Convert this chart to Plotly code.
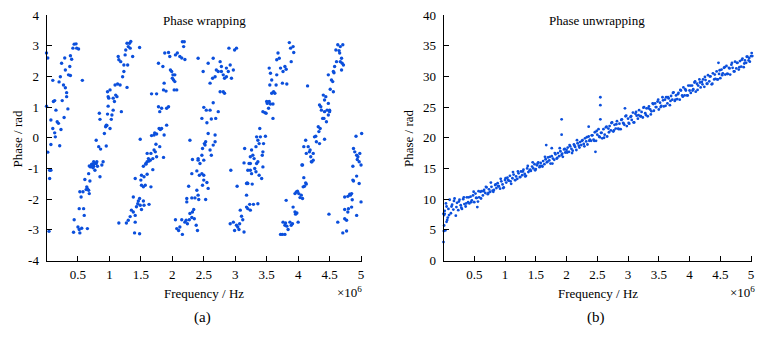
import plotly.graph_objects as go

# ---------------- (a) wrapped phase: frequency (x10^6 Hz) and phase (rad)
wrap_freq = [
    0.0, 0.02, 0.0, 0.02, 0.07, 0.1, 0.07, 0.11, 0.13, 0.1, 0.13, 0.14, 0.15, 0.17, 0.19, 0.21, 0.2, 0.22, 0.23, 0.24,
    0.25, 0.27, 0.29, 0.3, 0.28, 0.3, 0.32, 0.34, 0.35, 0.37, 0.38, 0.38, 0.4, 0.42, 0.44, 0.47, 0.48, 0.51, 0.57, 0.32,
    0.05, 0.07, 0.05, 0.04,
    0.43, 0.44, 0.5, 0.52, 0.53, 0.56, 0.65, 0.52, 0.59, 0.6, 0.55, 0.53, 0.58, 0.61, 0.64, 0.65, 0.67, 0.68, 0.69, 0.63,
    0.67, 0.7, 0.72, 0.75, 0.77, 0.79, 0.81, 0.85, 0.88, 0.75, 0.9,
    0.68, 0.72, 0.76, 0.8, 0.74, 0.79, 0.83, 0.86, 0.84, 0.85, 0.92, 0.94, 0.95, 0.97, 0.95, 0.96, 0.98, 0.98, 1.01, 1.03,
    1.04, 1.06, 1.09, 1.1, 1.12, 1.13, 1.14, 1.15, 1.17, 1.18, 1.19, 1.21, 1.23, 1.23, 1.25, 1.26, 1.28, 1.29, 1.3, 1.32,
    1.33, 1.34, 1.37, 1.28, 1.08, 1.06, 0.99, 0.97, 1.01,
    1.15, 1.27, 1.3, 1.33, 1.41, 1.4, 1.48, 1.35, 1.38, 1.41, 1.43, 1.45, 1.46, 1.48, 1.49, 1.51, 1.54, 1.55, 1.63, 1.38,
    1.41, 1.5, 1.51, 1.55, 1.6, 1.51, 1.54, 1.57, 1.66, 1.58, 1.6, 1.63, 1.65, 1.69,
    1.58, 1.54, 1.62, 1.6, 1.66, 1.69, 1.71, 1.73, 1.75, 1.74, 1.8, 1.86, 1.67, 1.71, 1.72, 1.75, 1.79, 1.81, 1.83, 1.87,
    1.91, 1.78, 1.8, 1.83, 1.91, 1.94, 1.86, 1.9, 1.87, 1.75, 1.67, 1.78, 1.85, 1.88, 1.94, 1.96, 1.97, 1.99, 2.0, 2.01,
    2.02, 2.04, 2.04, 2.03, 2.07, 2.05, 2.08, 2.12, 2.15, 2.16, 2.19, 2.18, 2.2, 1.49, 1.48,
    2.05, 2.07, 2.1, 2.12, 2.15, 2.16, 2.2, 2.22, 2.24, 2.27, 2.31, 2.28, 2.32, 2.34, 2.35, 2.38, 2.4, 2.23, 2.23, 2.26,
    2.31, 2.36, 2.41, 2.39, 2.42, 2.31, 2.39, 2.43, 2.47, 2.5, 2.5, 2.55, 2.53, 2.57, 2.48, 2.41, 2.5,
    2.28, 2.32, 2.41, 2.44, 2.47, 2.48, 2.51, 2.52, 2.53, 2.57, 2.6, 2.62, 2.65, 2.68, 2.47, 2.5, 2.54, 2.55, 2.6, 2.62,
    2.65, 2.69, 2.73, 2.68, 2.76, 2.81, 2.83, 2.49, 2.6, 2.64, 2.68, 2.7, 2.73, 2.76, 2.78, 2.81, 2.83, 2.86, 2.89, 2.92,
    2.94, 2.97, 2.99, 3.02, 2.9, 2.41, 2.57, 2.65, 2.78, 2.86,
    2.92, 2.93, 2.97, 2.99, 3.02, 3.04, 3.06, 3.07, 3.1, 3.12, 3.14, 3.08, 3.18, 3.2, 3.23, 3.24, 3.29, 3.36, 3.03, 3.18,
    3.19, 3.2, 3.27, 3.18, 3.14, 3.2, 3.24, 3.26, 3.24, 3.31, 3.33, 3.34, 3.36, 3.38, 3.42, 3.44,
    3.15, 3.22, 3.24, 3.26, 3.28, 3.3, 3.33, 3.34, 3.36, 3.38, 3.39, 3.4, 3.43, 3.44, 3.45, 3.48, 3.44, 3.47, 3.49, 3.5,
    3.51, 3.53, 3.54, 3.56, 3.58, 3.6, 3.6, 3.61, 3.63, 3.65, 3.66, 3.54, 3.58, 3.66, 3.68, 3.7, 3.72, 3.75, 3.76, 3.79,
    3.81, 3.82, 3.86, 3.88, 3.89, 3.92, 3.93, 3.56, 3.55,
    3.72, 3.75, 3.79, 3.76, 3.79, 3.8, 3.82, 3.84, 3.87, 3.89, 3.91, 3.81, 3.92, 3.95, 3.96, 3.98, 4.0, 3.95, 3.97, 3.99,
    4.01, 4.03, 4.05, 4.07, 4.08, 4.1, 4.12, 4.09, 4.13, 4.06, 4.21, 4.24,
    4.07, 4.09, 4.12, 4.13, 4.16, 4.18, 4.19, 4.2, 4.22, 4.24, 4.26, 4.28, 4.29, 4.32, 4.33, 4.34, 4.35, 4.37, 4.39, 4.41,
    4.42, 4.45, 4.48, 4.5, 4.42, 4.44, 4.46, 4.48, 4.51, 4.53, 4.55, 4.56, 4.5, 4.34, 4.36, 4.4, 4.42, 4.57, 4.61, 4.6,
    4.63, 4.65, 4.66, 4.67, 4.69, 4.7, 4.71, 4.69, 4.67, 4.72, 4.15, 4.58, 4.48, 4.56,
    4.49, 4.63, 4.71, 4.77, 4.74, 4.77, 4.74, 4.79, 4.8, 4.85, 4.93, 5.0, 5.08, 5.1, 4.74, 4.79, 4.82, 4.83, 4.85, 4.86,
    4.87, 4.88, 4.93, 4.97, 5.0, 5.04, 5.08, 5.11, 4.87,
    4.88, 4.9, 4.93, 4.94, 4.95, 4.97, 4.98, 5.01, 4.92, 5.06, 5.1, 5.04, 5.04, 5.11, 5.08,
]
wrap_phase = [
    2.76, 2.6, 1.03, -0.47, -0.22, 1.87, 0.58, 1.18, 1.21, 0.3, 0.16, 0.03, 0.9, 0.52, 0.47, -0.26, 1.82, 1.99, 0.27, 2.43,
    1.21, 1.72, 2.6, 1.63, 0.66, 2.21, 1.34, 0.94, 2.05, 2.32, 2.03, 2.67, 2.56, 2.92, 3.05, 3.06, 2.92, 2.89, 1.87, 1.47,
    -1.06, -1.06, -1.33, -3.05,
    -3.08, -2.67, -2.91, -2.99, -3.1, -2.95, -2.96, -2.31, -2.31, -2.53, -1.93, -1.76, -1.76, -1.36, -1.6, -1.66, -1.71, -1.82, -1.41, -1.69,
    -1.17, -0.95, -0.86, -0.93, -1.06, -0.84, -0.93, -1.27, -0.89, -0.78, -0.78,
    -0.92, -0.87, -0.84, -0.78, -0.98, -0.08, -0.29, -0.37, 0.8, 0.6, 0.14, 0.36, 0.41, 0.77, -0.27, 0.4, 1.03, 1.34, 0.3, 0.6,
    0.74, 0.9, 1.72, 1.39, 1.34, 1.75, 2.65, 2.54, 1.72, 2.48, 0.85, 1.99, 2.37, 2.16, 2.7, 2.86, 1.64, 2.37, 2.97, 3.08,
    2.92, 3.14, 2.65, 3.08, 1.18, 1.29, 1.29, 1.5, 1.56,
    -2.78, -2.78, -2.69, -2.57, -2.75, -3.1, -3.13, -2.36, -2.42, -2.53, -2.25, -2.15, -2.06, -1.98, -2.2, -2.34, -2.06, -2.2, -2.17, -1.93,
    -1.33, -1.38, -1.22, -1.27, -1.19, -1.55, -1.6, -1.55, -1.6, -0.86, -0.78, -0.76, -0.73, -1.04,
    -0.84, -0.93, -0.68, -0.51, -0.51, -0.68, -0.4, -0.46, -0.62, -0.21, -0.29, -0.64, 0.07, 0.09, 0.16, 0.12, 0.3, 0.27, 0.3, 0.09,
    0.41, 1.01, 0.85, 0.96, 0.96, 1.01, 1.56, 1.52, 1.78, 1.43, 1.43, 2.43, 2.32, 2.76, 2.78, 2.65, 2.21, 2.16, 1.94, 2.05,
    1.88, 1.83, 2.05, 1.56, 1.56, 2.7, 2.76, 2.65, 2.6, 3.13, 3.13, 2.97, 2.55, -0.05, 2.94,
    -2.67, -2.96, -3.02, -2.91, -2.67, -3.15, -2.75, -2.69, -2.8, -2.67, -2.6, -2.47, -2.42, -2.34, -2.64, -2.85, -3.02, -2.09, -1.98, -1.58,
    -1.96, -1.96, -1.87, -1.71, -2.01, -1.17, -1.08, -1.22, -1.17, -1.22, -1.38, -1.46, -2.01, -1.65, -1.55, -0.73, -0.73,
    -0.08, -0.71, -0.68, -0.84, -0.57, -0.35, -0.19, -0.24, -0.13, 0.14, -0.4, -0.57, -0.24, 0.09, 0.63, 0.99, 0.9, 0.49, 0.9, 0.61,
    1.14, 0.63, 0.85, -0.13, 1.5, 1.5, 1.45, 2.16, 1.78, 1.94, 1.99, 2.21, 2.16, 2.48, 2.16, 2.05, 1.94, 2.27, 2.16, 2.37,
    1.94, 2.21, 2.86, 2.92, 2.92, 2.59, 2.43, 2.59, 2.32, 1.99,
    -2.8, -1.06, -2.75, -3.02, -2.85, -2.91, -2.99, -2.8, -2.56, -2.67, -3.07, -2.36, -2.26, -2.31, -2.17, -2.36, -2.17, -2.15, -1.58, -1.49,
    -1.47, -1.49, -1.51, -1.87, -0.82, -1.06, -1.06, -1.17, -0.84, -1.0, -1.11, -0.84, -0.78, -1.22, -1.33, -0.95,
    -0.35, -0.84, -0.62, -0.4, -0.57, -0.68, -0.29, 0.03, -0.08, -0.19, 0.3, 0.03, -0.57, -0.46, -0.19, 0.05, 0.85, 0.82, 0.8, 1.18,
    1.12, 0.96, 1.18, 1.1, 1.45, 1.1, 0.63, 1.5, 1.45, 1.72, 2.05, 2.27, 1.88, 2.54, 2.76, 2.59, 2.27, 1.78, 2.16, 2.32,
    2.23, 1.75, 3.1, 2.92, 2.48, 2.97, 2.78, 2.1, 1.72,
    -3.15, -3.15, -3.15, -2.75, -2.85, -2.78, -2.88, -2.99, -2.75, -2.85, -2.8, -2.04, -2.26, -2.42, -2.49, -2.45, -2.75, -1.82, -1.77, -1.74,
    -1.82, -1.95, -1.87, -1.98, -1.6, -1.58, -1.47, -1.3, -1.51, -0.89, -0.78, -0.73,
    -0.89, -0.29, -0.08, -0.51, -0.29, -0.46, -0.4, -0.62, -0.78, -0.51, 0.03, 0.05, -0.13, 0.36, 0.2, -0.19, 0.3, 0.9, 0.63, 0.63,
    -0.05, 0.52, 0.74, 0.9, 1.23, 1.34, 0.9, 1.12, 1.58, 1.88, 1.83, 1.5, 0.85, 1.07, 1.01, 1.39, 0.85, 2.12, 2.48, 2.86,
    3.03, 2.84, 2.76, 2.97, 2.59, 2.43, 3.03, 2.21, 2.48, 2.37, 1.69, 2.32, 2.05, 2.16,
    -2.49, -2.75, -3.1, -3.04, -2.64, -2.69, -2.34, -2.42, -2.31, -2.26, -2.53, -2.09, -2.36, -2.42, -1.93, -1.91, -1.84, -1.87, -1.82, -2.02,
    -1.38, -1.41, -1.25, -1.49, -0.89, -0.82, -1.49, -1.51, -0.93,
    -0.35, -0.46, -0.57, -0.71, -0.62, -0.78, -0.51, 0.14, 0.05, -0.84, -0.24, 1.01, 1.39, 1.34, 1.99,
]

# ---------------- (b) unwrapped phase
unwrap_freq_a = [
    0.02, 0.04, 0.06, 0.08, 0.10, 0.12, 0.14, 0.16, 0.18, 0.20,
    0.22, 0.24, 0.26, 0.28, 0.30, 0.32, 0.34, 0.36, 0.38, 0.40,
    0.42, 0.44, 0.46, 0.48, 0.50, 0.52, 0.54, 0.56, 0.58, 0.60,
    0.62, 0.64, 0.66, 0.68, 0.70, 0.72, 0.74, 0.76, 0.78, 0.80,
    0.82, 0.84, 0.86, 0.88, 0.90, 0.92, 0.94, 0.96, 0.98, 1.00,
    1.02, 1.04, 1.06, 1.08, 1.10, 1.12, 1.14, 1.16, 1.18, 1.20,
    1.22, 1.24, 1.26, 1.28, 1.30, 1.32, 1.34, 1.36, 1.38, 1.40,
    1.42, 1.44, 1.46, 1.48, 1.50, 1.52, 1.54, 1.56, 1.58, 1.60,
    1.62, 1.64, 1.66, 1.68, 1.70, 1.72, 1.74, 1.76, 1.78, 1.80,
    1.82, 1.84, 1.86, 1.88, 1.90, 1.92, 1.94, 1.96, 1.98, 2.00,
    2.02, 2.04, 2.06, 2.08, 2.10, 2.12, 2.14, 2.16, 2.18, 2.20,
    2.22, 2.24, 2.26, 2.28, 2.30, 2.32, 2.34, 2.36, 2.38, 2.40,
    2.42, 2.44, 2.46, 2.48, 2.50, 2.52, 2.54, 2.56, 2.58, 2.60,
    2.62, 2.64, 2.66, 2.68, 2.70, 2.72, 2.74, 2.76, 2.78, 2.80,
    2.82, 2.84, 2.86, 2.88, 2.90, 2.92, 2.94, 2.96, 2.98, 3.00,
    3.02, 3.04, 3.06, 3.08, 3.10, 3.12, 3.14, 3.16, 3.18, 3.20,
    3.22, 3.24, 3.26, 3.28, 3.30, 3.32, 3.34, 3.36, 3.38, 3.40,
    3.42, 3.44, 3.46, 3.48, 3.50, 3.52, 3.54, 3.56, 3.58, 3.60,
    3.62, 3.64, 3.66, 3.68, 3.70, 3.72, 3.74, 3.76, 3.78, 3.80,
    3.82, 3.84, 3.86, 3.88, 3.90, 3.92, 3.94, 3.96, 3.98, 4.00,
    4.02, 4.04, 4.06, 4.08, 4.10, 4.12, 4.14, 4.16, 4.18, 4.20,
    4.22, 4.24, 4.26, 4.28, 4.30, 4.32, 4.34, 4.36, 4.38, 4.40,
    4.42, 4.44, 4.46, 4.48, 4.50, 4.52, 4.54, 4.56, 4.58, 4.60,
    4.62, 4.64, 4.66, 4.68, 4.70, 4.72, 4.74, 4.76, 4.78, 4.80,
    4.82, 4.84, 4.86, 4.88, 4.90, 4.92, 4.94, 4.96, 4.98, 5.00, 5.02, 5.04,
]
unwrap_phase_a = [
    7.6, 9.3, 6.6, 8.4, 9.9, 7.7, 9.1, 8.3, 10.1, 7.3,
    9.4, 8.2, 9.9, 9.0, 8.4, 10.0, 9.2, 8.8, 10.3, 9.5,
    9.3, 10.4, 9.8, 10.6, 9.5, 10.9, 10.2, 9.6, 10.3, 11.2,
    11.3, 10.6, 11.5, 11.0, 11.9, 10.8, 11.6, 11.2, 12.0, 11.4,
    11.5, 12.3, 11.8, 12.6, 12.1, 11.7, 12.9, 12.4, 11.9, 13.1,
    12.7, 13.5, 13.0, 13.8, 12.5, 13.4, 14.0, 13.1, 13.7, 13.3,
    14.2, 13.6, 14.5, 13.9, 14.8, 14.1, 13.8, 15.0, 14.4, 14.7,
    14.6, 15.3, 15.0, 15.7, 14.9, 15.5, 16.0, 15.2, 15.9, 15.4,
    16.2, 15.7, 16.5, 16.0, 16.8, 16.3, 15.8, 17.0, 16.6, 16.4,
    17.3, 16.6, 17.5, 17.0, 17.8, 17.2, 16.9, 18.1, 17.6, 18.0,
    18.4, 17.7, 18.6, 18.2, 17.9, 18.9, 18.5, 18.0, 19.1, 18.7,
    19.3, 18.8, 19.6, 19.0, 19.9, 19.4, 18.9, 20.2, 19.7, 19.5,
    20.4, 19.7, 20.9, 19.5, 20.5, 21.4, 20.1, 20.8, 19.9, 21.4,
    20.5, 21.7, 20.2, 21.5, 21.9, 21.2, 22.5, 21.0, 22.1, 21.5,
    22.7, 21.5, 22.3, 21.4, 23.0, 22.4, 22.1, 23.5, 21.9, 23.1,
    22.3, 23.4, 22.9, 24.1, 22.5, 23.9, 23.6, 23.1, 24.5, 23.5,
    24.2, 23.3, 25.0, 24.0, 24.8, 23.5, 25.1, 24.6, 24.3, 25.6,
    24.4, 25.6, 25.0, 25.9, 24.6, 25.7, 25.2, 26.6, 25.1, 26.2,
    26.6, 25.6, 26.4, 25.3, 26.8, 26.2, 27.4, 26.0, 26.9, 26.3,
    27.3, 26.2, 27.7, 26.9, 28.2, 26.9, 27.7, 26.9, 28.5, 27.7,
    27.3, 28.5, 27.9, 29.0, 27.5, 28.8, 28.5, 29.5, 28.2, 29.1,
    29.5, 28.3, 29.4, 28.8, 30.2, 29.2, 30.0, 28.7, 30.5, 29.5,
    29.6, 30.8, 29.5, 30.4, 29.7, 31.1, 30.5, 31.4, 30.3, 31.7,
    30.4, 31.4, 30.3, 31.9, 31.4, 30.8, 32.4, 31.3, 32.2, 31.1,
    32.5, 31.6, 32.9, 31.5, 32.6, 32.2, 33.2, 32.6, 32.4, 33.3, 33.3, 33.8,
]
unwrap_freq_b = [
    0.01, 0.05, 0.09, 0.13, 0.17, 0.21, 0.25, 0.29, 0.33, 0.37,
    0.41, 0.45, 0.49, 0.53, 0.57, 0.61, 0.65, 0.69, 0.73, 0.77,
    0.81, 0.85, 0.89, 0.93, 0.97, 1.01, 1.05, 1.09, 1.13, 1.17,
    1.21, 1.25, 1.29, 1.33, 1.37, 1.41, 1.45, 1.49, 1.53, 1.57,
    1.61, 1.65, 1.69, 1.73, 1.77, 1.81, 1.85, 1.89, 1.93, 1.97,
    2.01, 2.05, 2.09, 2.13, 2.17, 2.21, 2.25, 2.29, 2.33, 2.37,
    2.41, 2.45, 2.49, 2.53, 2.57, 2.61, 2.65, 2.69, 2.73, 2.77,
    2.81, 2.85, 2.89, 2.93, 2.97, 3.01, 3.05, 3.09, 3.13, 3.17,
    3.21, 3.25, 3.29, 3.33, 3.37, 3.41, 3.45, 3.49, 3.53, 3.57,
    3.61, 3.65, 3.69, 3.73, 3.77, 3.81, 3.85, 3.89, 3.93, 3.97,
    4.01, 4.05, 4.09, 4.13, 4.17, 4.21, 4.25, 4.29, 4.33, 4.37,
    4.41, 4.45, 4.49, 4.53, 4.57, 4.61, 4.65, 4.69, 4.73, 4.77,
    4.81, 4.85, 4.89, 4.93, 4.97, 5.01,
]
unwrap_phase_b = [
    7.4, 8.8, 7.4, 8.8, 9.7, 8.7, 9.6, 8.6, 10.3, 9.3,
    10.3, 9.5, 11.2, 10.2, 11.3, 10.1, 11.3, 12.0, 11.0, 12.7,
    11.2, 12.4, 12.1, 13.3, 11.8, 13.4, 13.1, 12.9, 14.4, 13.1,
    14.5, 13.6, 14.5, 13.7, 15.4, 14.8, 16.0, 14.7, 15.8, 15.4,
    15.3, 16.9, 16.1, 16.9, 15.8, 17.5, 16.7, 18.3, 17.4, 18.2,
    17.6, 18.8, 17.5, 18.7, 19.6, 18.4, 19.5, 18.6, 20.1, 19.5,
    20.4, 19.5, 21.1, 20.2, 20.8, 20.0, 21.8, 20.9, 22.4, 21.2,
    22.2, 21.4, 22.9, 22.3, 23.6, 22.4, 23.5, 22.5, 24.2, 23.7,
    23.5, 24.9, 23.7, 24.8, 23.8, 25.5, 25.0, 26.2, 25.0, 26.1,
    25.2, 26.6, 26.0, 27.3, 26.2, 27.1, 27.8, 26.7, 27.9, 26.9,
    28.5, 27.7, 29.2, 27.8, 29.0, 28.7, 29.9, 28.8, 30.0, 28.8,
    30.3, 29.5, 31.0, 30.2, 31.5, 30.4, 31.3, 32.2, 30.8, 32.2,
    31.5, 32.7, 32.1, 33.2, 33.0, 33.8,
]
# start, outliers and the drop at the high-frequency end
unwrap_freq_c = [0.0, 0.005, 0.01, 0.03, 0.05, 0.07, 0.0, 0.02, 0.55,
                 1.92, 1.92, 2.55, 2.55, 2.55, 2.95, 2.47, 2.36, 4.47, 1.76, 1.67,
                 5.04, 5.06, 5.08, 5.09, 5.11, 5.09, 5.1, 5.03]
unwrap_phase_c = [3.0, 4.8, 5.7, 4.9, 6.3, 7.0, 7.6, 8.1, 8.7,
                  23.0, 20.5, 25.3, 23.0, 26.6, 24.8, 17.7, 21.8, 32.2, 18.3, 18.8,
                  31.6, 34.0, 31.0, 29.4, 28.3, 26.5, 25.4, 32.6]

freq_ticks = [0.5, 1, 1.5, 2, 2.5, 3, 3.5, 4, 4.5, 5]
freq_ticktext = ["0.5", "1", "1.5", "2", "2.5", "3", "3.5", "4", "4.5", "5"]
wrap_ticks = [-4, -3, -2, -1, 0, 1, 2, 3, 4]
wrap_ticktext = ["-4", "-3", "-2", "-1", "0", "1", "2", "3", "4"]
unwrap_ticks = [0, 5, 10, 15, 20, 25, 30, 35, 40]

# the page body has an 8 px margin: the figure sits at (8, 8) in the 777x337 window
OFF = 8
W, H = 777 - OFF, 337 - OFF
FONT = "'Liberation Serif', 'Times New Roman', Times, 'DejaVu Serif', serif"
BLUE = "#0b4fdc"


def px(x):
    return (x - OFF) / W


def py(y):
    return 1 - (y - OFF) / H


fig = go.Figure()
fig.add_trace(go.Scatter(x=wrap_freq, y=wrap_phase, mode="markers",
                         marker=dict(size=3.4, color=BLUE, line=dict(width=0)),
                         cliponaxis=False, xaxis="x", yaxis="y", showlegend=False))
unwrap_freq = unwrap_freq_a + unwrap_freq_b + unwrap_freq_c
unwrap_phase = unwrap_phase_a + unwrap_phase_b + unwrap_phase_c
fig.add_trace(go.Scatter(x=unwrap_freq, y=unwrap_phase, mode="markers",
                         marker=dict(size=2.8, color=BLUE, line=dict(width=0)),
                         cliponaxis=False, xaxis="x2", yaxis="y2", showlegend=False))

axis_common = dict(showline=True, linecolor="black", linewidth=1, ticks="inside",
                   ticklen=5, tickwidth=1, tickcolor="black", showgrid=False,
                   zeroline=False, mirror=False, automargin=False,
                   ticklabeloverflow="allow",
                   tickfont=dict(family=FONT, size=13, color="black"))

ytop, ybot = 15, 260.5
fig.update_layout(
    width=W, height=H, margin=dict(l=0, r=0, t=0, b=0, autoexpand=False),
    paper_bgcolor="white", plot_bgcolor="white",
    font=dict(family=FONT, size=13, color="black"),
    xaxis=dict(domain=[px(46.5), px(362.3)], range=[0, 5.02], tickvals=freq_ticks,
               ticktext=freq_ticktext, anchor="y", ticklabelstandoff=2, **axis_common),
    yaxis=dict(domain=[py(ybot), py(ytop)], range=[-4, 4], tickvals=wrap_ticks,
               ticktext=wrap_ticktext, anchor="x", ticklabelstandoff=4, **axis_common),
    xaxis2=dict(domain=[px(443.5), px(752.3)], range=[0, 5.02], tickvals=freq_ticks,
                ticktext=freq_ticktext, anchor="y2", ticklabelstandoff=2, **axis_common),
    yaxis2=dict(domain=[py(ybot), py(ytop)], range=[0, 40], tickvals=unwrap_ticks,
                anchor="x2", ticklabelstandoff=4, **axis_common),
)


def note(text, x, y, size=13, xanchor="center", angle=0):
    fig.add_annotation(text=text, x=px(x), y=py(y), xref="paper", yref="paper",
                       showarrow=False, xanchor=xanchor, yanchor="middle",
                       textangle=angle, font=dict(family=FONT, size=size, color="black"))


note("Phase wrapping", 204.5, 21)
note("Phase unwrapping", 597, 21)
note("Frequency / Hz", 204, 293)
note("Frequency / Hz", 597.5, 293)
note("×10<sup>6</sup>", 363.5, 292, xanchor="right")
note("×10<sup>6</sup>", 757, 292, xanchor="right")
note("(a)", 202, 317, size=15)
note("(b)", 596, 317, size=15)
note("Phase / rad", 17, 138.5, angle=-90)
note("Phase / rad", 408.5, 138.5, angle=-90)

fig.write_html("out.html")
